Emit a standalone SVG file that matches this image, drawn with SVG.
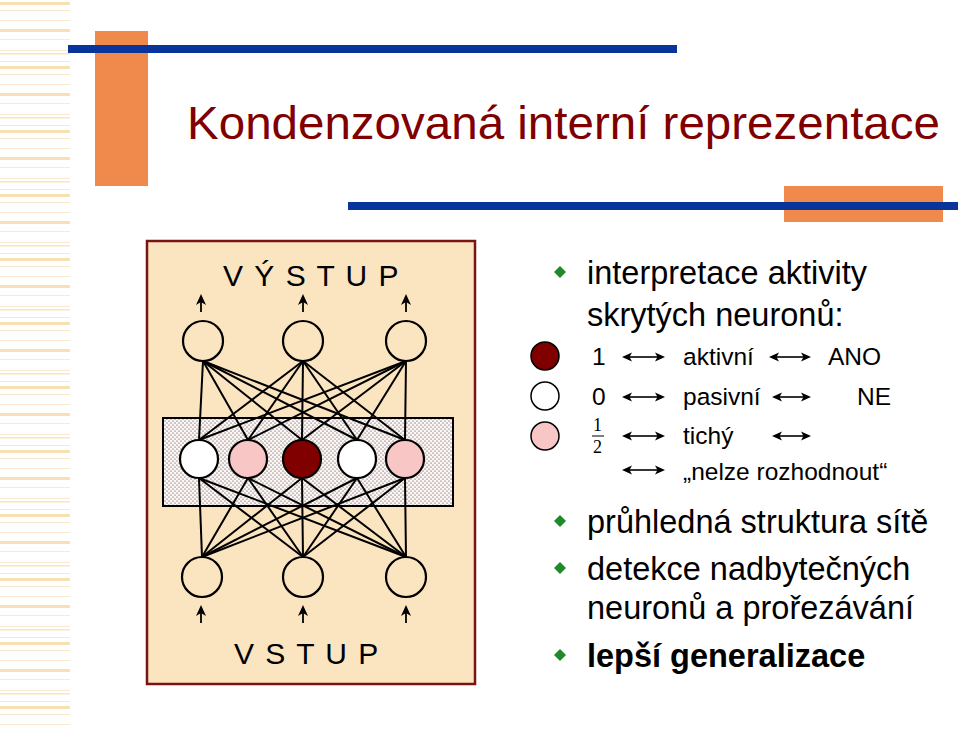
<svg xmlns="http://www.w3.org/2000/svg" xmlns:xlink="http://www.w3.org/1999/xlink" width="960" height="729" viewBox="0 0 960 729">
<defs>
<pattern id="stripes" x="0" y="0" width="70" height="64" patternUnits="userSpaceOnUse">
<rect x="0" y="2" width="70" height="3" fill="#F8E0B4"/>
<rect x="0" y="10" width="70" height="1" fill="#FAE9CF"/>
<rect x="0" y="20" width="70" height="1" fill="#FAE9CF"/>
<rect x="0" y="29" width="70" height="3" fill="#F8E0B4"/>
<rect x="0" y="39" width="70" height="1" fill="#FAE9CF"/>
<rect x="0" y="50" width="70" height="1" fill="#FAE9CF"/>
<rect x="0" y="53" width="70" height="1.5" fill="#F9E4C0"/>
<rect x="0" y="61" width="70" height="1" fill="#FAE9CF"/>
</pattern>
<pattern id="dots" x="0" y="0" width="4" height="4" patternUnits="userSpaceOnUse">
<rect width="4" height="4" fill="#FDF6F4"/>
<circle cx="1" cy="1" r="0.6" fill="#333"/>
<circle cx="3" cy="3" r="0.6" fill="#333"/>
</pattern>
<path id="uph" d="M0,0 L5,11 L0,8 L-5,11 z" fill="#000"/>
<path id="lh" d="M0,0 L10,-4.5 L7.5,0 L10,4.5 z" fill="#000"/>
<path id="rh" d="M0,0 L-10,-4.5 L-7.5,0 L-10,4.5 z" fill="#000"/>
</defs>
<style>
.t{font-family:"Liberation Sans",Arial,sans-serif;fill:#000}
.b{font-size:32.5px}
.lg{font-size:24.5px}
.io{font-size:30px;letter-spacing:1.5px}
.conn line{stroke:#000;stroke-width:2}
.neu{stroke:#000;stroke-width:2.2}
.dbl{stroke:#000;stroke-width:1.6}
.ua{stroke:#000;stroke-width:1.8}
.dia{fill:#1E8A2A}
</style>
<rect width="960" height="729" fill="#ffffff"/>
<rect x="0" y="0" width="70" height="729" fill="url(#stripes)"/>
<g id="decor">
<rect x="95" y="31" width="53" height="155" fill="#F08A4C"/>
<rect x="68" y="45" width="609" height="8" fill="#08349C"/>
<rect x="784" y="186" width="159" height="36" fill="#F08A4C"/>
<rect x="348" y="202" width="610" height="8" fill="#08349C"/>
</g>
<text id="title" x="187" y="139" font-family="Liberation Sans, Arial, sans-serif" font-size="47" fill="#800000" textLength="753" lengthAdjust="spacingAndGlyphs">Kondenzovaná interní reprezentace</text>
<g id="panel">
<rect x="147" y="241" width="328" height="443" fill="#FBE4C0" stroke="#7A1414" stroke-width="2.5"/>
<rect x="163" y="418" width="290" height="88" fill="url(#dots)" stroke="#000" stroke-width="2"/>
</g>
<g id="connectors" class="conn">
<line x1="203" y1="361" x2="199" y2="440"/><line x1="203" y1="361" x2="248" y2="440"/><line x1="203" y1="361" x2="302" y2="440"/><line x1="203" y1="361" x2="357" y2="440"/><line x1="203" y1="361" x2="405" y2="440"/>
<line x1="303" y1="361" x2="199" y2="440"/><line x1="303" y1="361" x2="248" y2="440"/><line x1="303" y1="361" x2="302" y2="440"/><line x1="303" y1="361" x2="357" y2="440"/><line x1="303" y1="361" x2="405" y2="440"/>
<line x1="406" y1="361" x2="199" y2="440"/><line x1="406" y1="361" x2="248" y2="440"/><line x1="406" y1="361" x2="302" y2="440"/><line x1="406" y1="361" x2="357" y2="440"/><line x1="406" y1="361" x2="405" y2="440"/>
<line x1="202" y1="557" x2="199" y2="478"/><line x1="202" y1="557" x2="248" y2="478"/><line x1="202" y1="557" x2="302" y2="478"/><line x1="202" y1="557" x2="357" y2="478"/><line x1="202" y1="557" x2="405" y2="478"/>
<line x1="303" y1="557" x2="199" y2="478"/><line x1="303" y1="557" x2="248" y2="478"/><line x1="303" y1="557" x2="302" y2="478"/><line x1="303" y1="557" x2="357" y2="478"/><line x1="303" y1="557" x2="405" y2="478"/>
<line x1="406" y1="557" x2="199" y2="478"/><line x1="406" y1="557" x2="248" y2="478"/><line x1="406" y1="557" x2="302" y2="478"/><line x1="406" y1="557" x2="357" y2="478"/><line x1="406" y1="557" x2="405" y2="478"/>
</g>
<g id="arrows">
<line class="ua" x1="201" y1="312" x2="201" y2="300"/><use xlink:href="#uph" href="#uph" x="201" y="294"/>
<line class="ua" x1="303" y1="312" x2="303" y2="300"/><use xlink:href="#uph" href="#uph" x="303" y="294"/>
<line class="ua" x1="406" y1="312" x2="406" y2="300"/><use xlink:href="#uph" href="#uph" x="406" y="294"/>
<line class="ua" x1="201" y1="623" x2="201" y2="611"/><use xlink:href="#uph" href="#uph" x="201" y="605"/>
<line class="ua" x1="303" y1="623" x2="303" y2="611"/><use xlink:href="#uph" href="#uph" x="303" y="605"/>
<line class="ua" x1="406" y1="623" x2="406" y2="611"/><use xlink:href="#uph" href="#uph" x="406" y="605"/>
</g>
<g id="out1"><circle class="neu" cx="203" cy="341" r="20" fill="#FBE4C0"/></g>
<g id="out2"><circle class="neu" cx="303" cy="341" r="20" fill="#FBE4C0"/></g>
<g id="out3"><circle class="neu" cx="406" cy="341" r="20" fill="#FBE4C0"/></g>
<g id="hid1"><circle class="neu" cx="199" cy="459" r="19" fill="#ffffff"/></g>
<g id="hid2"><circle class="neu" cx="248" cy="459" r="19" fill="#F9C6C6"/></g>
<g id="hid3"><circle class="neu" cx="302" cy="459" r="19" fill="#800000"/></g>
<g id="hid4"><circle class="neu" cx="357" cy="459" r="19" fill="#ffffff"/></g>
<g id="hid5"><circle class="neu" cx="405" cy="459" r="19" fill="#F9C6C6"/></g>
<g id="in1"><circle class="neu" cx="202" cy="577" r="20" fill="#FBE4C0"/></g>
<g id="in2"><circle class="neu" cx="303" cy="577" r="20" fill="#FBE4C0"/></g>
<g id="in3"><circle class="neu" cx="406" cy="577" r="20" fill="#FBE4C0"/></g>
<text class="t io" x="223" y="286">V Ý S T U P</text>
<text class="t io" x="234" y="664">V S T U P</text>
<g id="bullets">
<path class="dia" d="M560,266 L566,272 L560,278 L554,272 z"/>
<text class="t b" x="587" y="284">interpretace aktivity</text>
<text class="t b" x="587" y="326">skrytých neuronů:</text>
<path class="dia" d="M560,515 L566,521 L560,527 L554,521 z"/>
<text class="t b" x="587" y="533">průhledná struktura sítě</text>
<path class="dia" d="M560,562 L566,568 L560,574 L554,568 z"/>
<text class="t b" x="587" y="580">detekce nadbytečných</text>
<text class="t b" x="587" y="619">neuronů a prořezávání</text>
<path class="dia" d="M560,649 L566,655 L560,661 L554,655 z"/>
<text class="t b" x="587" y="667" font-weight="bold">lepší generalizace</text>
</g>
<g id="legend">
<circle cx="545" cy="356" r="14" fill="#800000" stroke="#000" stroke-width="1.5"/>
<circle cx="545" cy="396" r="14" fill="#ffffff" stroke="#000" stroke-width="1.5"/>
<circle cx="545" cy="436" r="14" fill="#F9C6C6" stroke="#000" stroke-width="1.5"/>
<text class="t lg" x="592" y="365">1</text>
<text class="t lg" x="592" y="405">0</text>
<text x="593" y="431" font-family="Liberation Serif, serif" font-size="18">1</text>
<line x1="592" y1="436" x2="604" y2="436" stroke="#000" stroke-width="1"/>
<text x="593" y="453" font-family="Liberation Serif, serif" font-size="18">2</text>
<g id="dblarrows">
<line class="dbl" x1="628" y1="357" x2="659" y2="357"/><use href="#lh" xlink:href="#lh" x="622" y="357"/><use href="#rh" xlink:href="#rh" x="665" y="357"/>
<line class="dbl" x1="628" y1="397" x2="659" y2="397"/><use href="#lh" xlink:href="#lh" x="622" y="397"/><use href="#rh" xlink:href="#rh" x="665" y="397"/>
<line class="dbl" x1="628" y1="436" x2="659" y2="436"/><use href="#lh" xlink:href="#lh" x="622" y="436"/><use href="#rh" xlink:href="#rh" x="665" y="436"/>
<line class="dbl" x1="628" y1="470" x2="659" y2="470"/><use href="#lh" xlink:href="#lh" x="622" y="470"/><use href="#rh" xlink:href="#rh" x="665" y="470"/>
<line class="dbl" x1="775" y1="357" x2="805" y2="357"/><use href="#lh" xlink:href="#lh" x="769" y="357"/><use href="#rh" xlink:href="#rh" x="811" y="357"/>
<line class="dbl" x1="778" y1="397" x2="805" y2="397"/><use href="#lh" xlink:href="#lh" x="772" y="397"/><use href="#rh" xlink:href="#rh" x="811" y="397"/>
<line class="dbl" x1="778" y1="436" x2="805" y2="436"/><use href="#lh" xlink:href="#lh" x="772" y="436"/><use href="#rh" xlink:href="#rh" x="811" y="436"/>
</g>
<text class="t lg" x="683" y="365">aktivní</text>
<text class="t lg" x="683" y="405">pasivní</text>
<text class="t lg" x="683" y="444">tichý</text>
<text class="t lg" x="683" y="480">„nelze rozhodnout“</text>
<text class="t lg" x="828" y="365">ANO</text>
<text class="t lg" x="857" y="405">NE</text>
</g>
</svg>
